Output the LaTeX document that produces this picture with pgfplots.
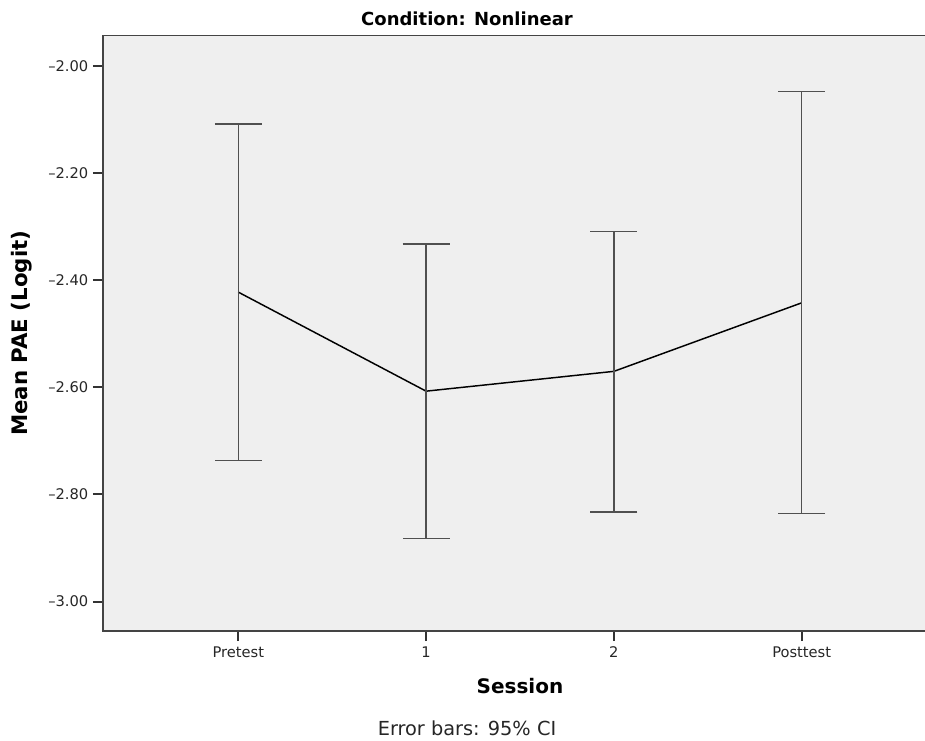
\documentclass[border=0pt]{standalone}
\usepackage{pgfplots}
\pgfplotsset{compat=1.18}
\usepackage{pgfplotstable}
\usepackage{fontspec}
\setmainfont{DejaVu Sans}
\definecolor{plotbg}{HTML}{EFEFEF}
\definecolor{axframe}{HTML}{444444}
\definecolor{ebar}{HTML}{505050}

\pgfplotstableread{
x  y       ep     em
0  -2.422  0.314  0.315
1  -2.607  0.275  0.275
2  -2.570  0.261  0.263
3  -2.442  0.395  0.394
}\sessdata

\begin{document}
\begin{tikzpicture}
\path[use as bounding box] (0,0) rectangle (693.75pt,555pt);
\begin{axis}[
  at={(77.25pt,81.75pt)}, anchor=south west,
  scale only axis,
  width=625.5pt, height=446.6pt,
  xmin=-0.7204, xmax=3.7204,
  ymin=-3.055, ymax=-1.9427,
  axis background/.style={fill=plotbg},
  axis line style={axframe, line width=1.1pt},
  xtick pos=bottom, ytick pos=left,
  tick align=outside,
  major tick length=7.5pt,
  major tick style={draw=black!80, line width=1.5pt},
  xtick={0,1,2,3},
  xticklabels={Pretest,1,2,Posttest},
  ytick={-3,-2.8,-2.6,-2.4,-2.2,-2},
  yticklabels={–3.00,–2.80,–2.60,–2.40,–2.20,–2.00},
  tick label style={font=\fontsize{11}{13}\selectfont, text=black!85},
  xticklabel style={yshift=-1pt},
  xlabel={Session},
  ylabel={Mean PAE (Logit)},
  xlabel style={font=\fontsize{15}{18}\selectfont\bfseries, anchor=base,
    at={(axis description cs:0.5,0)}, yshift=-47.1pt},
  ylabel style={font=\fontsize{16}{19}\selectfont\bfseries, anchor=center,
    at={(axis description cs:0,0.5)}, yshift=60.75pt},
  clip=false,
]
\addplot[black, line width=1.1pt, no marks,
  error bars/.cd, y dir=both, y explicit,
  error bar style={line width=1.1pt, color=ebar},
  error mark options={rotate=90, line width=1.1pt, color=ebar, mark size=17.6pt}]
  table[x=x, y=y, y error plus=ep, y error minus=em] {\sessdata};
\end{axis}
\node[anchor=base, font=\fontsize{13.5}{16}\selectfont\bfseries] at (350.25pt,535.5pt) {Condition: Nonlinear};
\node[anchor=base, font=\fontsize{14.5}{17}\selectfont, text=black!85] at (350.25pt,3.5pt) {Error bars: 95\% CI};
\end{tikzpicture}
\end{document}
